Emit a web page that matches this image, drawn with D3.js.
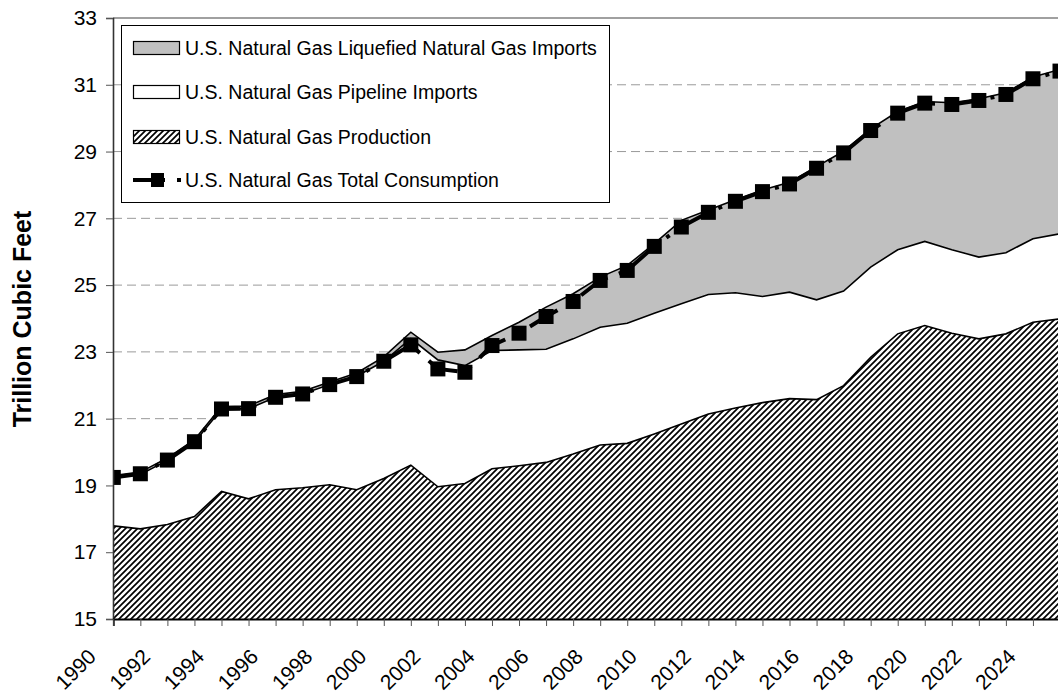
<!DOCTYPE html>
<html>
<head>
<meta charset="utf-8">
<script src="https://cdn.jsdelivr.net/npm/d3@7"></script>
<style>
  body { margin: 0; background: #fff; }
  svg { display: block; font-family: Arial, "Liberation Sans", sans-serif; }
</style>
</head>
<body>
<div id="chart"></div>
<script>
// years on the category axis
const years = [1990, 1991, 1992, 1993, 1994, 1995, 1996, 1997, 1998, 1999,
               2000, 2001, 2002, 2003, 2004, 2005, 2006, 2007, 2008, 2009,
               2010, 2011, 2012, 2013, 2014, 2015, 2016, 2017, 2018, 2019,
               2020, 2021, 2022, 2023, 2024, 2025];

// trillion cubic feet
const production = [17.79, 17.70, 17.83, 18.07, 18.82, 18.60, 18.87, 18.93, 19.02, 18.87,
                    19.21, 19.61, 18.96, 19.06, 19.50, 19.59, 19.69, 19.94, 20.21, 20.26,
                    20.54, 20.84, 21.14, 21.32, 21.48, 21.60, 21.57, 21.99, 22.84, 23.54,
                    23.79, 23.56, 23.39, 23.54, 23.89, 23.99];
const pipelineImports = [1.46, 1.63, 1.92, 2.23, 2.46, 2.70, 2.77, 2.81, 3.00, 3.40,
                         3.51, 3.79, 3.80, 3.53, 3.54, 3.47, 3.39, 3.45, 3.53, 3.60,
                         3.62, 3.60, 3.58, 3.45, 3.18, 3.19, 2.99, 2.83, 2.70, 2.52,
                         2.52, 2.50, 2.45, 2.43, 2.50, 2.55];
const lngImports = [0.05, 0.07, 0.07, 0.07, 0.08, 0.08, 0.08, 0.08, 0.08, 0.10,
                    0.13, 0.19, 0.23, 0.47, 0.45, 0.83, 1.26, 1.35, 1.50, 1.73,
                    2.08, 2.50, 2.53, 2.79, 3.19, 3.29, 3.99, 4.19, 4.14, 4.14,
                    4.19, 4.40, 4.74, 4.79, 4.84, 4.92];
const consumption = [19.24, 19.35, 19.76, 20.31, 21.29, 21.30, 21.64, 21.74, 22.02, 22.26,
                     22.72, 23.21, 22.49, 22.39, 23.19, 23.56, 24.06, 24.51, 25.14, 25.44,
                     26.16, 26.74, 27.18, 27.51, 27.80, 28.03, 28.50, 28.96, 29.63, 30.15,
                     30.45, 30.41, 30.53, 30.71, 31.18, 31.41];

const yTicks = [15, 17, 19, 21, 23, 25, 27, 29, 31, 33];
const xTickLabels = [1990, 1992, 1994, 1996, 1998, 2000, 2002, 2004, 2006, 2008,
                     2010, 2012, 2014, 2016, 2018, 2020, 2022, 2024];
const legendLabels = ["U.S. Natural Gas Liquefied Natural Gas Imports",
                      "U.S. Natural Gas Pipeline Imports",
                      "U.S. Natural Gas Production",
                      "U.S. Natural Gas Total Consumption"];

// chart dimensions
const width = 1058;
const height = 698;
const marginTop = 18;
const marginLeft = 113;
const plotBottom = 619;
const plotRight = 1100;

const x = d3.scaleLinear()
    .domain([1990, 2025])
    .range([113.3, 1060]);

const y = d3.scaleLinear()
    .domain([15, 33])
    .range([plotBottom, marginTop])
    .clamp(true);

const svg = d3.select("#chart").append("svg")
    .attr("width", width)
    .attr("height", height)
    .attr("viewBox", [0, 0, width, height]);

const defs = svg.append("defs");

// upward diagonal hatching for production
const hatch = defs.append("pattern")
    .attr("id", "hatch")
    .attr("patternUnits", "userSpaceOnUse")
    .attr("width", 6)
    .attr("height", 6);
hatch.append("rect").attr("width", 6).attr("height", 6).attr("fill", "#fff");
hatch.append("path")
    .attr("d", "M0,6 L6,0 M-3,3 L3,-3 M3,9 L9,3")
    .attr("stroke", "#000")
    .attr("stroke-width", 1.7);

defs.append("clipPath").attr("id", "plot-clip")
  .append("rect")
    .attr("x", marginLeft)
    .attr("y", marginTop)
    .attr("width", plotRight - marginLeft)
    .attr("height", plotBottom - marginTop);

// gridlines (behind the areas)
svg.append("g")
  .selectAll("line")
  .data(yTicks.filter(d => d > 15 && d < 33))
  .join("line")
    .attr("x1", marginLeft)
    .attr("x2", plotRight)
    .attr("y1", d => y(d))
    .attr("y2", d => y(d))
    .attr("stroke", "#9a9a9a")
    .attr("stroke-width", 1)
    .attr("stroke-dasharray", "9,5");

// stacked areas
const table = years.map((yr, i) => ({
  year: yr,
  production: production[i],
  pipeline: pipelineImports[i],
  lng: lngImports[i]
}));

const series = d3.stack().keys(["production", "pipeline", "lng"])(table);
const fills = { production: "url(#hatch)", pipeline: "#ffffff", lng: "#c0c0c0" };

const area = d3.area()
    .x(d => x(d.data.year))
    .y0(d => y(d[0]))
    .y1(d => y(d[1]));

const topLine = d3.line()
    .x(d => x(d.data.year))
    .y(d => y(d[1]));

const plot = svg.append("g").attr("clip-path", "url(#plot-clip)");

plot.append("g")
  .selectAll("path")
  .data(series)
  .join("path")
    .attr("d", area)
    .attr("fill", d => fills[d.key]);

plot.append("g")
  .selectAll("path")
  .data(series)
  .join("path")
    .attr("d", topLine)
    .attr("fill", "none")
    .attr("stroke", "#000")
    .attr("stroke-width", 1.6);

// consumption line with square markers
plot.append("path")
    .datum(consumption)
    .attr("d", d3.line()
        .x((d, i) => x(years[i]))
        .y(d => y(d)))
    .attr("fill", "none")
    .attr("stroke", "#000")
    .attr("stroke-width", 4)
    .attr("stroke-dasharray", "32,12,4,12");

const markerSize = 15;
plot.append("g")
  .selectAll("rect")
  .data(consumption)
  .join("rect")
    .attr("x", (d, i) => x(years[i]) - markerSize / 2)
    .attr("y", d => y(d) - markerSize / 2)
    .attr("width", markerSize)
    .attr("height", markerSize)
    .attr("fill", "#000");

// top border of plot area
svg.append("line")
    .attr("x1", marginLeft)
    .attr("x2", plotRight)
    .attr("y1", marginTop)
    .attr("y2", marginTop)
    .attr("stroke", "#808080")
    .attr("stroke-width", 1.5);

// y axis
svg.append("g")
    .attr("transform", `translate(${marginLeft},0)`)
    .call(d3.axisLeft(y).tickValues(yTicks).tickSize(7).tickPadding(9))
    .call(g => g.select(".domain").attr("stroke", "#333").attr("stroke-width", 1.6))
    .call(g => g.selectAll(".tick line").attr("stroke", "#555"))
    .call(g => g.selectAll(".tick text")
        .attr("font-size", 21)
        .attr("fill", "#000")
        .attr("font-family", "Arial, 'Liberation Sans', sans-serif"));

// x axis: a tick every year, labels every other year
svg.append("g")
    .attr("transform", `translate(0,${plotBottom})`)
    .call(d3.axisBottom(x).tickValues(years).tickSize(7).tickFormat(""))
    .call(g => g.select(".domain").attr("stroke", "#000").attr("stroke-width", 1.8))
    .call(g => g.selectAll(".tick line").attr("stroke", "#555"));

svg.append("g")
  .selectAll("text")
  .data(xTickLabels)
  .join("text")
    .attr("transform", d => `translate(${x(d) - 16},${plotBottom + 39}) rotate(-45)`)
    .attr("text-anchor", "end")
    .attr("font-size", 21)
    .attr("fill", "#000")
    .text(d => d);

// y axis title
svg.append("text")
    .attr("transform", `translate(31,319) rotate(-90)`)
    .attr("text-anchor", "middle")
    .attr("font-size", 25)
    .attr("font-weight", "bold")
    .attr("fill", "#000")
    .text("Trillion Cubic Feet");

// legend
const legend = svg.append("g");
legend.append("rect")
    .attr("x", 121.5)
    .attr("y", 25.5)
    .attr("width", 488)
    .attr("height", 177)
    .attr("fill", "#fff")
    .attr("stroke", "#000")
    .attr("stroke-width", 1);

const rowY = [48, 92, 137, 180];
const swatchFills = ["#c0c0c0", "#ffffff", "url(#hatch)"];

legend.selectAll("rect.swatch")
  .data(swatchFills)
  .join("rect")
    .attr("class", "swatch")
    .attr("x", 133.5)
    .attr("y", (d, i) => rowY[i] - 6.5)
    .attr("width", 46)
    .attr("height", 13)
    .attr("fill", d => d)
    .attr("stroke", "#000")
    .attr("stroke-width", 1.2);

legend.append("line")
    .attr("x1", 133)
    .attr("x2", 181)
    .attr("y1", rowY[3])
    .attr("y2", rowY[3])
    .attr("stroke", "#000")
    .attr("stroke-width", 4)
    .attr("stroke-dasharray", "32,12,4,12");

legend.append("rect")
    .attr("x", 151)
    .attr("y", rowY[3] - 7)
    .attr("width", 13)
    .attr("height", 14)
    .attr("fill", "#000");

legend.selectAll("text")
  .data(legendLabels)
  .join("text")
    .attr("x", 185)
    .attr("y", (d, i) => rowY[i])
    .attr("dy", "0.36em")
    .attr("font-size", 19.5)
    .attr("fill", "#000")
    .text(d => d);
</script>
</body>
</html>
